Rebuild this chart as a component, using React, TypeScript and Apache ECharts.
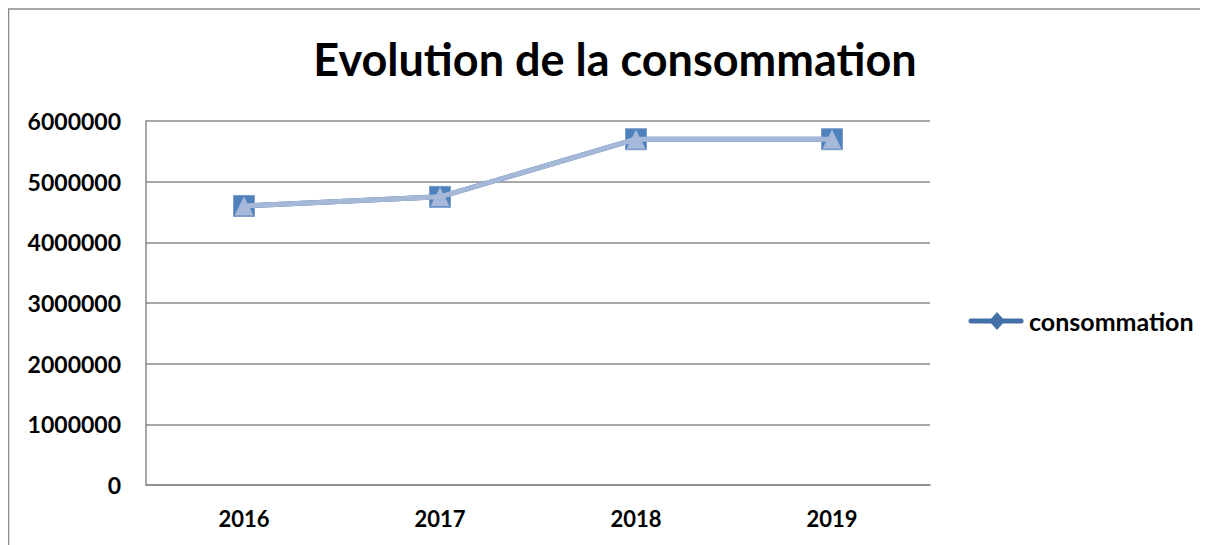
import React, { useEffect, useRef } from "react";
import * as echarts from "echarts";

const years = ["2016", "2017", "2018", "2019"];
const consommation = [4600000, 4750000, 5700000, 5700000];
const seriesName = "consommation";
const titleText = "Evolution de la consommation";

const FONT = "Lato, 'Open Sans', sans-serif";

export default function App() {
  const ref = useRef<HTMLDivElement>(null);
  useEffect(() => {
    if (!ref.current) return;
    const chart = echarts.init(ref.current, undefined, { renderer: "svg" });
    const legendY = 313;
    chart.setOption({
      animation: false,
      backgroundColor: "#fff",
      textStyle: { fontFamily: FONT },
      title: {
        text: titleText,
        left: 602,
        textAlign: "center",
        top: 23,
        textStyle: { fontSize: 45, fontWeight: "bold", color: "#000", fontFamily: FONT },
      },
      graphic: [
        {
          type: "rect",
          shape: { x: 0.5, y: 1, width: 1250, height: 700 },
          style: { fill: "none", stroke: "#8a8a8a", lineWidth: 1.5 },
          silent: true,
        },
        {
          type: "line",
          shape: { x1: 963, y1: legendY, x2: 1013, y2: legendY },
          style: { stroke: "#4470A8", lineWidth: 5, lineCap: "round" },
          silent: true,
        },
        {
          type: "polygon",
          shape: { points: [[989, legendY - 9], [997, legendY], [989, legendY + 9], [981, legendY]] },
          style: { fill: "#4470A8" },
          silent: true,
        },
        {
          type: "text",
          x: 1021,
          y: legendY,
          style: {
            text: seriesName,
            fontSize: 25,
            fontWeight: "bold",
            fill: "#000",
            fontFamily: FONT,
            verticalAlign: "middle",
            align: "left",
          },
          silent: true,
        },
      ],
      grid: { left: 138, right: 278, top: 113, bottom: 60, containLabel: false },
      xAxis: {
        type: "category",
        data: years,
        boundaryGap: true,
        axisLine: { show: true, lineStyle: { color: "#8a8a8a", width: 1.5 } },
        axisTick: { show: false },
        axisLabel: { margin: 22, fontSize: 22, fontWeight: "bold", color: "#000", fontFamily: FONT },
      },
      yAxis: {
        type: "value",
        min: 0,
        max: 6000000,
        interval: 1000000,
        axisLine: { show: true, lineStyle: { color: "#8a8a8a", width: 1.5 } },
        axisTick: { show: false },
        splitLine: { lineStyle: { color: "#8a8a8a", width: 1.5 } },
        axisLabel: {
          margin: 25,
          fontSize: 23,
          fontWeight: "bold",
          color: "#000",
          fontFamily: FONT,
          formatter: (v: number) => String(v),
        },
      },
      series: [
        {
          name: seriesName,
          type: "line",
          data: consommation,
          symbol: "rect",
          symbolSize: 21,
          lineStyle: { color: "#4471A8", width: 5 },
          itemStyle: { color: "#4F81BD", borderColor: "#7A9CCB", borderWidth: 1 },
          z: 2,
        },
        {
          name: "overlay",
          type: "line",
          data: consommation,
          symbol: "triangle",
          symbolSize: 19,
          lineStyle: { color: "#A5B8D8", width: 5 },
          itemStyle: { color: "#A7B9DA" },
          z: 3,
        },
      ],
    });
    return () => chart.dispose();
  }, []);
  return <div ref={ref} style={{ width: 1200, height: 537 }} />;
}
